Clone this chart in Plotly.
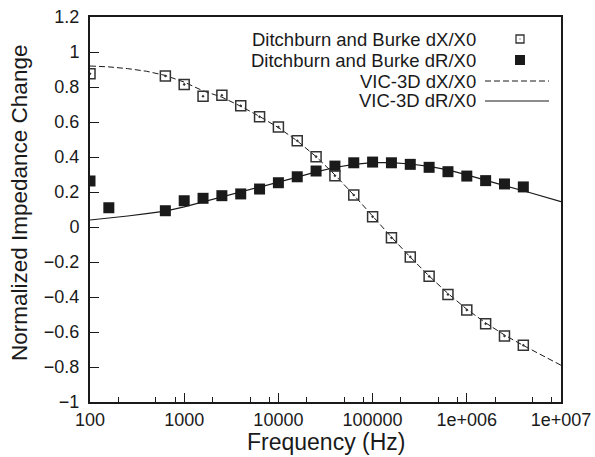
import plotly.graph_objects as go

# ---- data ----
freq_meas_dx = [100, 631, 1000, 1585, 2512, 3981, 6310, 10000, 15849, 25119, 39811, 63096,
                1.0e5, 1.585e5, 2.512e5, 3.981e5, 6.31e5, 1.0e6, 1.585e6, 2.512e6, 3.981e6]
meas_dx = [0.876, 0.863, 0.815, 0.747, 0.753, 0.693, 0.630, 0.571, 0.493, 0.402, 0.293, 0.183,
           0.059, -0.061, -0.171, -0.282, -0.385, -0.474, -0.553, -0.623, -0.676]

freq_meas_dr = [100, 158.5, 631, 1000, 1585, 2512, 3981, 6310, 10000, 15849, 25119, 39811, 63096,
                1.0e5, 1.585e5, 2.512e5, 3.981e5, 6.31e5, 1.0e6, 1.585e6, 2.512e6, 3.981e6]
meas_dr = [0.263, 0.110, 0.093, 0.150, 0.164, 0.179, 0.189, 0.217, 0.253, 0.287, 0.320, 0.348, 0.367,
           0.371, 0.367, 0.358, 0.341, 0.316, 0.291, 0.265, 0.246, 0.229]

freq_model = [1.0e2, 1.585e2, 2.512e2, 3.981e2, 6.31e2, 1.0e3, 1.585e3, 2.512e3, 3.981e3, 6.31e3,
              1.0e4, 1.585e4, 2.512e4, 3.981e4, 6.31e4, 1.0e5, 1.585e5, 2.512e5, 3.981e5, 6.31e5,
              1.0e6, 1.585e6, 2.512e6, 3.981e6, 6.31e6, 1.0e7]
model_dx = [0.920, 0.915, 0.905, 0.890, 0.866, 0.828, 0.778, 0.742, 0.690, 0.632,
            0.568, 0.492, 0.402, 0.298, 0.183, 0.062, -0.058, -0.172, -0.280, -0.380,
            -0.470, -0.548, -0.617, -0.677, -0.732, -0.790]
model_dr = [0.040, 0.050, 0.063, 0.076, 0.091, 0.115, 0.143, 0.170, 0.197, 0.225,
            0.255, 0.285, 0.315, 0.340, 0.358, 0.368, 0.368, 0.360, 0.346, 0.326,
            0.298, 0.266, 0.236, 0.207, 0.176, 0.145]

x_tickvals = [1e2, 1e3, 1e4, 1e5, 1e6, 1e7]
x_ticktext = ["100", "1000", "10000", "100000", "1e+006", "1e+007"]
x_minorvals = [m * d for d in [1e2, 1e3, 1e4, 1e5, 1e6] for m in (2, 5, 8)]
y_tickvals = [1.2, 1, 0.8, 0.6, 0.4, 0.2, 0, -0.2, -0.4, -0.6, -0.8, -1]
y_ticktext = ["1.2", "1", "0.8", "0.6", "0.4", "0.2", "0", "\u22120.2", "\u22120.4", "\u22120.6", "\u22120.8", "\u22121"]

legend_labels = ["Ditchburn and Burke dX/X0", "Ditchburn and Burke dR/X0", "VIC-3D dX/X0", "VIC-3D dR/X0"]

FONT = "Liberation Sans, Arial, Helvetica, sans-serif"
INK = "#1a1a1a"

fig = go.Figure()
fig.add_trace(go.Scatter(x=freq_model, y=model_dr, mode="lines", name=legend_labels[3],
                         line=dict(color=INK, width=1.2), showlegend=False))
fig.add_trace(go.Scatter(x=freq_model, y=model_dx, mode="lines", name=legend_labels[2],
                         line=dict(color=INK, width=1, dash="6px,3px"), showlegend=False))
fig.add_trace(go.Scatter(x=freq_meas_dr, y=meas_dr, mode="markers", name=legend_labels[1],
                         marker=dict(symbol="square", size=11, color=INK, line=dict(width=0)),
                         showlegend=False))
fig.add_trace(go.Scatter(x=freq_meas_dx, y=meas_dx, mode="markers", name=legend_labels[0],
                         marker=dict(symbol="square-open-dot", size=10, color="#333333",
                                     line=dict(width=1.5, color="#333333")),
                         showlegend=False))

# custom legend (text right-aligned, symbol on the right as in the reference)
L, R, T, B = 90, 34, 17, 55
W, H = 595, 457
pw, ph = W - L - R, H - T - B


def px_x(x):
    return (x - L) / pw


def px_y(y):
    return (H - B - y) / ph


rows_y = [39, 60, 81, 101]
shapes = []
annotations = []
for lab, yy in zip(legend_labels, rows_y):
    annotations.append(dict(x=px_x(478), y=px_y(yy), xref="paper", yref="paper", text=lab,
                            showarrow=False, xanchor="right", yanchor="middle",
                            font=dict(family=FONT, size=18.5, color=INK)))
# open square with dot
shapes.append(dict(type="rect", xref="paper", yref="paper",
                   x0=px_x(516), x1=px_x(524), y0=px_y(43), y1=px_y(35),
                   line=dict(color="#333333", width=1.3), fillcolor="rgba(0,0,0,0)"))
shapes.append(dict(type="rect", xref="paper", yref="paper",
                   x0=px_x(519.5), x1=px_x(520.5), y0=px_y(39.5), y1=px_y(38.5),
                   line=dict(width=0), fillcolor="#333333"))
# filled square
shapes.append(dict(type="rect", xref="paper", yref="paper",
                   x0=px_x(515), x1=px_x(525), y0=px_y(65), y1=px_y(55),
                   line=dict(width=0), fillcolor=INK))
# dashed line
shapes.append(dict(type="line", xref="paper", yref="paper",
                   x0=px_x(485), x1=px_x(549), y0=px_y(81), y1=px_y(81),
                   line=dict(color=INK, width=1, dash="6px,3px")))
# solid line
shapes.append(dict(type="line", xref="paper", yref="paper",
                   x0=px_x(485), x1=px_x(549), y0=px_y(101), y1=px_y(101),
                   line=dict(color=INK, width=1.2)))

# axis titles as annotations so their position is fixed
annotations.append(dict(x=px_x(325.5), y=px_y(442), xref="paper", yref="paper",
                        text="Frequency (Hz)", showarrow=False, xanchor="center", yanchor="middle",
                        font=dict(family=FONT, size=23, color=INK)))
annotations.append(dict(x=px_x(19), y=px_y(203), xref="paper", yref="paper",
                        text="Normalized Impedance Change", showarrow=False, textangle=-90,
                        xanchor="center", yanchor="middle",
                        font=dict(family=FONT, size=22.5, color=INK)))

fig.update_layout(
    width=W, height=H,
    margin=dict(l=L, r=R, t=T, b=B),
    paper_bgcolor="white", plot_bgcolor="white",
    font=dict(family=FONT, size=18, color=INK),
    shapes=shapes, annotations=annotations,
    showlegend=False,
)
fig.update_xaxes(
    type="log", range=[2, 7], automargin=False,
    tickvals=x_tickvals, ticktext=x_ticktext,
    ticks="inside", ticklen=9, tickwidth=1.2, tickcolor=INK,
    minor=dict(tickvals=x_minorvals, ticks="inside", ticklen=5, tickwidth=1.2, tickcolor=INK),
    showline=True, linecolor=INK, linewidth=2, mirror=True,
    showgrid=False, zeroline=False,
    tickfont=dict(family=FONT, size=18, color=INK),
    ticklabelstandoff=0,
)
fig.update_yaxes(
    range=[-1, 1.2], automargin=False,
    tickvals=y_tickvals, ticktext=y_ticktext,
    ticks="inside", ticklen=9, tickwidth=1.2, tickcolor=INK,
    showline=True, linecolor=INK, linewidth=2, mirror=True,
    showgrid=False, zeroline=False,
    tickfont=dict(family=FONT, size=18, color=INK),
    ticklabelstandoff=5,
)

fig.write_html("out.html")
